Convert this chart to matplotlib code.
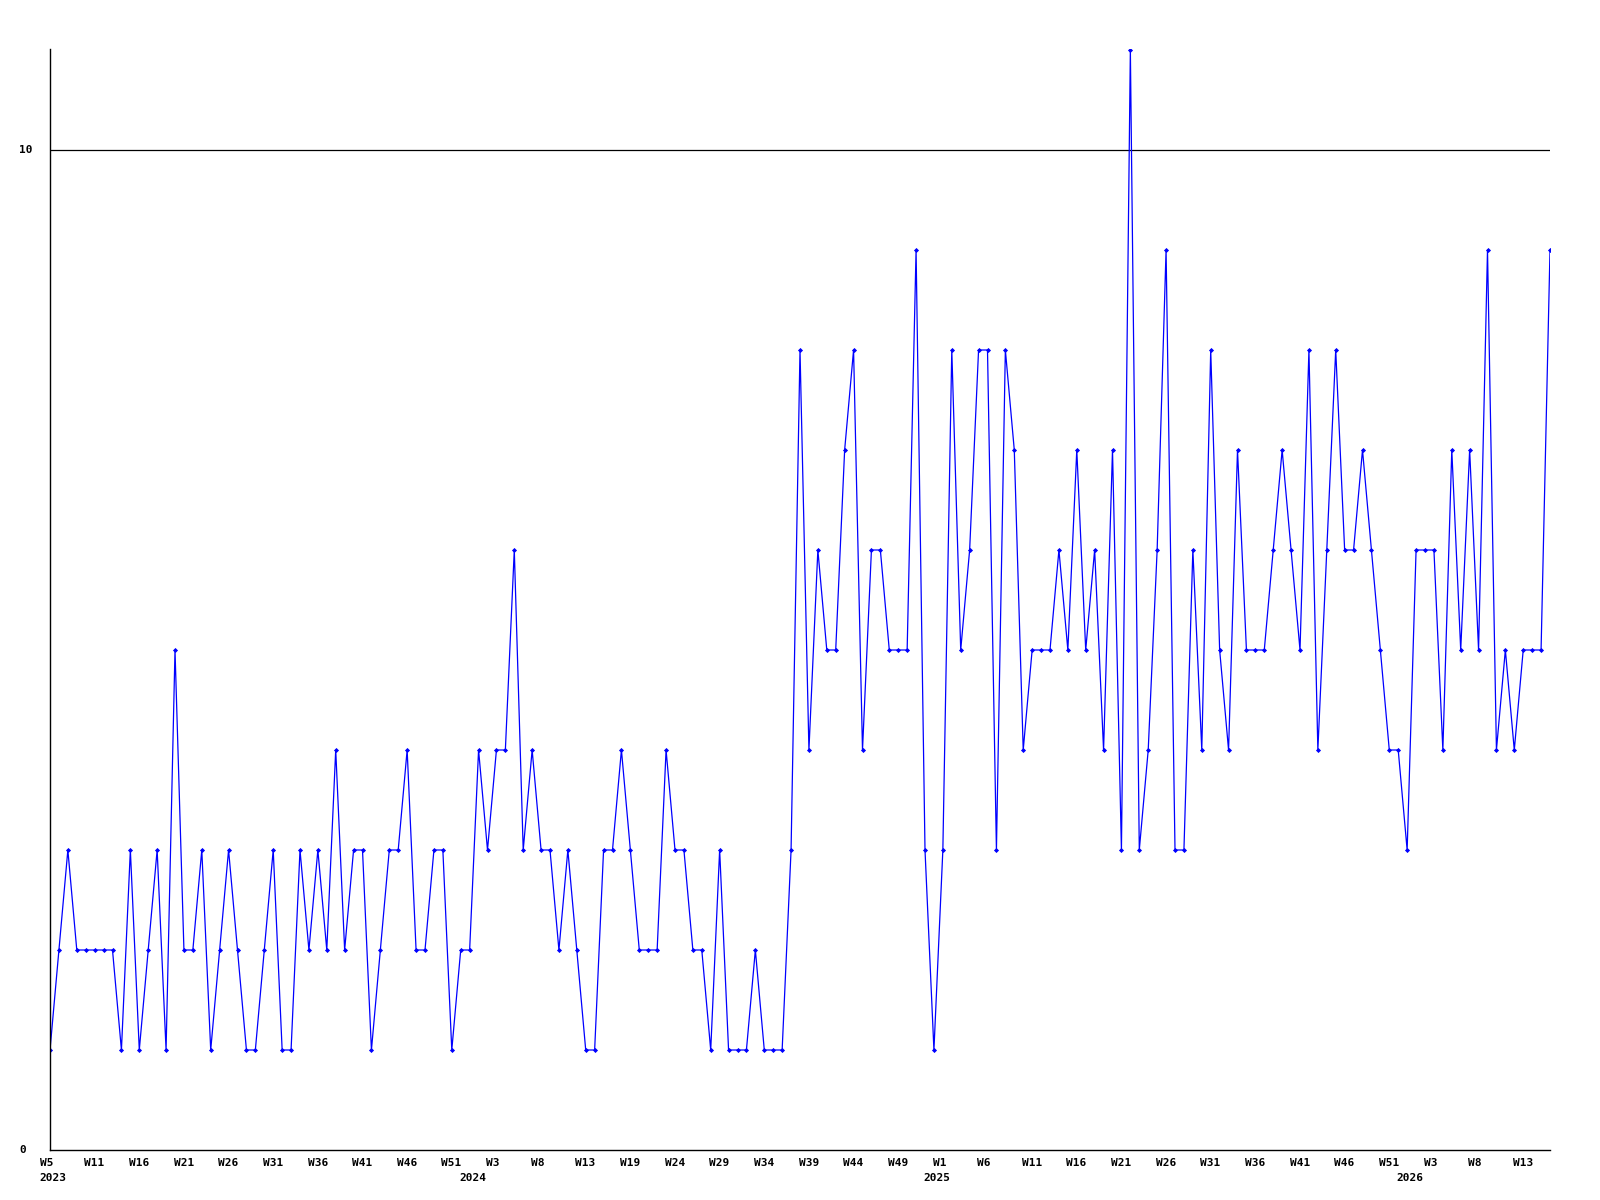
import matplotlib
matplotlib.use("Agg")
import matplotlib.pyplot as plt
import matplotlib.transforms as mtransforms

# weekly values, 2023 W5 .. 2026 W16 (one per week)
vals_2023 = [1, 2, 3, 2, 2, 2, 2, 2, 1, 3, 1, 2, 3, 1, 5, 2, 2, 3, 1, 2, 3, 2, 1, 1,
             2, 3, 1, 1, 3, 2, 3, 2, 4, 2, 3, 3, 1, 2, 3, 3, 4, 2, 2, 3, 3, 1, 2, 2]
vals_2024 = [4, 3, 4, 4, 6, 3, 4, 3, 3, 2, 3, 2, 1, 1, 3, 3, 4, 3, 2, 2, 2, 4, 3, 3, 2, 2,
             1, 3, 1, 1, 1, 2, 1, 1, 1, 3, 8, 4, 6, 5, 5, 7, 8, 4, 6, 6, 5, 5, 5, 9, 3, 1]
vals_2025 = [3, 8, 5, 6, 8, 8, 3, 8, 7, 4, 5, 5, 5, 6, 5, 7, 5, 6, 4, 7, 3, 11, 3, 4, 6, 9,
             3, 3, 6, 4, 8, 5, 4, 7, 5, 5, 5, 6, 7, 6, 5, 8, 4, 6, 8, 6, 6, 7, 6, 5, 4, 4]
vals_2026 = [3, 6, 6, 6, 4, 7, 5, 7, 5, 9, 4, 5, 4, 5, 5, 5, 9]

values = vals_2023 + vals_2024 + vals_2025 + vals_2026
weeks = list(range(len(values)))

week_labels = ["W5", "W11", "W16", "W21", "W26", "W31", "W36", "W41", "W46", "W51",
               "W3", "W8", "W13", "W19", "W24", "W29", "W34", "W39", "W44", "W49",
               "W1", "W6", "W11", "W16", "W21", "W26", "W31", "W36", "W41", "W46", "W51",
               "W3", "W8", "W13"]
week_ticks = list(range(0, 5 * len(week_labels), 5))
year_labels = ["2023", "2024", "2025", "2026"]
year_ticks = [0, 47, 99, 152]

W, H = 1600, 1200
fig = plt.figure(figsize=(16, 12), dpi=100)
ax = fig.add_axes([50 / W, 50 / H, 1500 / W, (1151 - 50) / H])

ax.plot(weeks, values, color="#0000ff", lw=0.9, marker="D", markersize=2.6,
        markerfacecolor="#0000ff", markeredgewidth=0)
ax.axhline(10, color="black", lw=0.9, zorder=0)

ax.set_xlim(0, len(values) - 1)
ax.set_ylim(0, 11.01)
for s in ["top", "right"]:
    ax.spines[s].set_visible(False)
ax.spines["left"].set_linewidth(1.0)
ax.spines["bottom"].set_linewidth(1.0)
ax.set_xticks([])
ax.set_yticks([])

font = dict(family="DejaVu Sans Mono", weight="bold", size=8, color="black")

# x labels: left edge about 10 px before the week position
trans = mtransforms.blended_transform_factory(ax.transData, fig.transFigure)
shift = mtransforms.ScaledTranslation(-10.3 / 100, 0, fig.dpi_scale_trans)
for t, lab in zip(week_ticks, week_labels):
    ax.text(t, 1 - 1162.5 / H, lab, transform=trans + shift, ha="left", va="center", **font)
for t, lab in zip(year_ticks, year_labels):
    ax.text(t, 1 - 1178 / H, lab, transform=trans + shift, ha="left", va="center", **font)

# y labels
ytrans = mtransforms.blended_transform_factory(fig.transFigure, ax.transData)
for v in [0, 10]:
    ax.text(19 / W, v, str(v), transform=ytrans, ha="left", va="center", **font)

fig.savefig("out.png", dpi=100, facecolor="white")
